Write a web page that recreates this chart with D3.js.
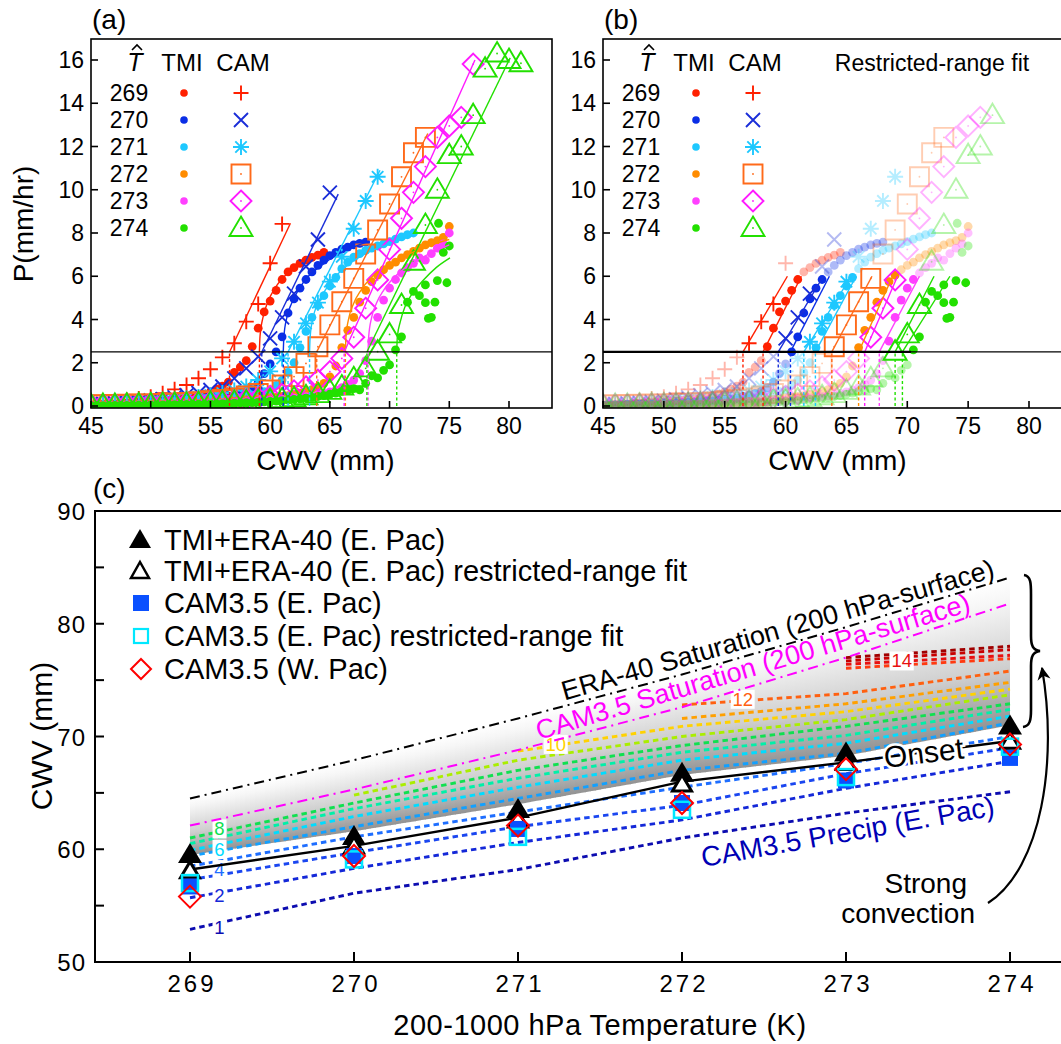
<!DOCTYPE html>
<html>
<head>
<meta charset="utf-8">
<script src="https://cdn.jsdelivr.net/npm/d3@7"></script>
<style>
  body { margin: 0; background: #fff; }
  svg { font-family: "Liberation Sans", Arial, Helvetica, sans-serif; }
</style>
</head>
<body>
<svg id="chart" width="1061" height="1044"></svg>
<script>
// ---------------- panels (a) and (b): precip vs CWV ----------------
var temps = [269, 270, 271, 272, 273, 274];
var tmiColors = ["#ff2000", "#0a2ee6", "#1ec8ff", "#ff8c00", "#ff40ff", "#22e000"];
var camColors = ["#ff2000", "#1a2ed8", "#1ec8ff", "#ff6a1a", "#ff1aff", "#22e000"];
var camSymbols = ["plus", "cross", "star", "square", "diamond", "triangle"];

// TMI bin means, CWV from 45 mm every 0.5 mm
var tmiStart = 45, tmiStep = 0.5;
var tmi269 = [0.05,0.06,0.07,0.08,0.09,0.10,0.11,0.12,0.14,0.16,0.18,0.20,0.23,0.26,0.30,0.34,0.38,0.42,0.48,0.55,
  0.65,0.78,0.92,1.10,1.55,1.80,2.10,2.75,3.60,4.35,4.85,5.35,5.85,6.20,6.40,6.60,6.75,6.87,6.98,7.10];
var tmi270 = [0.04,0.05,0.05,0.06,0.07,0.07,0.08,0.09,0.09,0.10,0.11,0.12,0.13,0.15,0.16,0.18,0.20,0.22,0.24,0.27,
  0.30,0.34,0.38,0.44,0.50,0.58,0.68,0.85,1.10,1.50,1.95,2.50,3.20,4.30,4.95,5.45,5.85,6.20,6.50,6.75,
  6.95,7.10,7.25,7.35,7.45,7.52,7.58];
var tmi271 = [0.03,0.03,0.04,0.04,0.05,0.05,0.06,0.06,0.07,0.08,0.08,0.09,0.10,0.11,0.12,0.13,0.14,0.16,0.17,0.19,
  0.21,0.24,0.27,0.30,0.34,0.38,0.43,0.50,0.58,0.66,0.75,0.95,1.20,1.55,2.00,2.70,3.45,4.10,4.65,5.10,
  5.55,5.95,6.35,6.65,6.88,7.05,7.20,7.30,7.40,7.50,7.60,7.72,7.82,7.92,8.00];
var tmi272 = [0.02,0.02,0.03,0.03,0.03,0.04,0.04,0.04,0.05,0.05,0.06,0.06,0.07,0.07,0.08,0.09,0.10,0.11,0.12,0.13,
  0.14,0.15,0.17,0.19,0.21,0.23,0.25,0.28,0.31,0.34,0.37,0.40,0.44,0.48,0.53,0.60,0.67,0.76,0.88,1.05,
  1.35,1.85,2.70,3.50,4.10,4.80,5.35,5.75,6.05,6.30,6.50,6.65,6.85,7.00,7.15,7.30,7.45,7.55,7.65,7.80,8.30];
var tmi273 = [0.02,0.02,0.02,0.03,0.03,0.03,0.04,0.04,0.04,0.05,0.05,0.06,0.06,0.07,0.07,0.08,0.09,0.10,0.10,0.11,
  0.12,0.13,0.14,0.15,0.16,0.17,0.19,0.20,0.22,0.24,0.26,0.28,0.30,0.33,0.36,0.39,0.43,0.47,0.52,0.58,
  0.65,0.74,0.85,1.00,1.20,1.50,2.10,3.00,4.10,4.90,5.45,5.85,6.15,6.40,6.60,6.85,6.75,7.05,7.30,7.50,8.00];
var tmi274 = [0.02,0.02,0.02,0.02,0.03,0.03,0.03,0.04,0.04,0.04,0.05,0.05,0.05,0.06,0.06,0.07,0.07,0.08,0.08,0.09,
  0.10,0.10,0.11,0.12,0.13,0.14,0.15,0.16,0.18,0.19,0.21,0.23,0.25,0.27,0.30,0.33,0.36,0.40,0.44,0.48,
  0.55,0.60,0.68,0.72,0.80,0.75,1.05,1.40,1.30,1.65,1.90,2.60,3.20,4.80,5.30,5.10,5.60,4.10,5.80,7.10,7.40];
var tmi274Extra = [[73.0, 4.78], [73.25, 4.05], [73.8, 4.8], [74.1, 8.45], [74.8, 5.7]];
var tmiP = [tmi269, tmi270, tmi271, tmi272, tmi273, tmi274];

// CAM bin means, CWV from 45 mm every 1 mm
var camStart = 45;
var cam269 = [0.10,0.15,0.20,0.28,0.35,0.43,0.59,0.77,0.97,1.28,1.70,2.25,2.90,3.90,4.72,6.60,8.42];
var cam270 = [0.08,0.10,0.13,0.16,0.20,0.26,0.32,0.40,0.50,0.60,0.74,0.90,1.28,1.74,2.28,3.13,4.10,5.20,6.45,7.70,9.87];
var cam271 = [0.06,0.07,0.09,0.11,0.14,0.18,0.22,0.28,0.35,0.42,0.50,0.60,0.72,0.90,1.20,1.60,2.20,2.97,3.82,4.78,
  5.75,6.90,8.20,9.48,10.6];
var cam272 = [0.05,0.06,0.07,0.08,0.09,0.10,0.12,0.14,0.16,0.20,0.24,0.30,0.37,0.46,0.58,0.74,0.97,1.36,1.97,2.74,
  3.75,4.82,5.90,7.03,8.14,9.34,10.6,11.71,12.42];
var cam273 = [0.05,0.06,0.07,0.08,0.09,0.10,0.11,0.13,0.15,0.17,0.19,0.21,0.24,0.30,0.36,0.45,0.55,0.70,0.89,1.20,
  1.59,2.20,3.18,4.52,5.83,7.24,8.68,9.88,11.07,12.42,12.95,13.35,15.81];
var cam274 = [0.04,0.05,0.05,0.06,0.07,0.08,0.09,0.10,0.11,0.13,0.15,0.17,0.19,0.21,0.24,0.27,0.31,0.36,0.45,0.55,
  0.70,0.90,1.28,1.74,2.51,3.31,4.67,6.67,8.37,10.0,11.6,12.0,13.45,15.6,16.3,16.0,15.85];
var camP = [cam269, cam270, cam271, cam272, cam273, cam274];
var camLastB = [60, 64, 69, 73, 76, 77];   // last CAM bin shown in panel (b)

// full-range fits in (a)
var camFitA = [
  [[56.6, 2.5], [61.7, 8.45]],
  [[59.3, 2.5], [65.7, 9.8]],
  [[61.5, 2.5], [69.2, 10.9]],
  [[63.9, 2.5], [73.2, 12.6]],
  [[66.2, 2.5], [77.15, 16.0]],
  [[68.1, 2.5], [80.1, 16.1]]
];
var tmiFitA = [
  [[59.1,2.5],[59.15,3.2],[59.4,4.1],[59.8,4.8],[60.4,5.45],[61.2,6.0],[62.2,6.5],[63.4,6.9],[64.5,7.2]],
  [[61.1,2.5],[61.15,3.2],[61.4,4.1],[61.8,4.75],[62.4,5.4],[63.2,6.0],[64.3,6.5],[65.6,7.0],[67,7.35],[68.2,7.6]],
  [[63.3,2.5],[63.35,3.2],[63.6,4.1],[64,4.75],[64.6,5.35],[65.5,6.0],[66.7,6.6],[68.2,7.1],[70,7.5],[72,7.9]],
  [[66.3,2.5],[66.35,3.2],[66.6,4.1],[67,4.75],[67.6,5.35],[68.5,5.95],[69.8,6.5],[71.5,7.0],[73.5,7.45],[75,7.7]],
  [[68.2,2.5],[68.25,3.2],[68.5,4.1],[68.9,4.75],[69.5,5.35],[70.4,5.95],[71.6,6.5],[73.2,7.0],[75,7.45]],
  [[70.6,2.5],[70.65,3.2],[70.9,3.9],[71.3,4.6],[71.9,5.2],[72.8,5.8],[73.9,6.4],[75.06,6.85]]
];
// restricted-range fits in (b): CWV where the line is at 2.5 and at 6 mm/hr
var fitRange = [2.5, 6.0];
var camFitB = [[56.5, 60.15], [59.4, 63.1], [61.5, 65.4], [63.8, 67.1], [66.5, 69.2], [69.0, 72.2]];
var tmiFitB = [[58.15, 61.3], [60.4, 63.6], [62.45, 65.8], [66.0, 68.8], [67.7, 71.0], [69.6, 73.5]];
var onsetP = 2.5;

// ---------------- panel (c): onset CWV vs column temperature ----------------
var cTemps = [269, 270, 271, 272, 273, 274];
var tmiOnset = [59.4, 61.0, 63.4, 66.6, 68.4, 70.8];
var tmiOnsetRestricted = [58.0, 60.2, 62.5, 65.7, 67.6, 69.5];
var camEPac = [56.7, 59.4, 61.8, 64.1, 66.1, 68.1];
var camEPacRestricted = [57.0, 59.1, 61.1, 63.5, 66.4, 69.1];
var camWPac = [55.8, 59.4, 62.1, 64.1, 67.1, 69.3];
var onsetLine = [58.2, 60.3, 62.8, 66.0, 67.7, 69.6];
var eraSat = [64.5, 67.9, 71.6, 75.5, 79.7, 84.1];
var camSat = [62.1, 65.3, 68.8, 72.6, 77.0, 81.8];
var shadeBottom = [59.5, 61.6, 64.0, 66.6, 68.3, 71.0];

// CAM3.5 precip contours (mm/hr), CWV at each temperature
var precipLevels = [1, 2, 3, 4, 5, 6, 7, 8, 9, 10, 11, 12, 13, 14, 15, 16];
var precipColors = ["#0c0cb0", "#1428d8", "#1a46f0", "#1e6eff", "#12a0ff", "#00dcff", "#00f0a8", "#10e050",
  "#aaee00", "#ffd200", "#ffa000", "#ff6010", "#ff3a10", "#e81010", "#c80000", "#a00000"];
var precipCwv = [
  [52.9, 56.1, 58.2, 61.0, 63.2, 65.1],
  [55.7, 58.3, 60.6, 62.6, 65.4, 67.8],
  [57.3, 59.7, 62.0, 63.9, 66.7, 69.0],
  [58.5, 61.1, 63.3, 65.5, 67.6, 70.0],
  [59.4, 62.0, 64.5, 67.0, 68.5, 71.2],
  [59.9, 62.9, 65.5, 67.9, 69.4, 71.8],
  [60.5, 63.6, 66.3, 68.6, 70.1, 72.4],
  [61.0, 64.1, 67.0, 69.2, 70.9, 72.9],
  [null, 64.8, 67.9, 70.0, 71.5, 73.7],
  [null, null, 68.7, 70.9, 72.2, 74.2],
  [null, null, null, 71.6, 72.9, 74.8],
  [null, null, null, 72.8, 73.8, 75.8],
  [null, null, null, null, 76.05, 76.9],
  [null, null, null, null, 76.4, 77.2],
  [null, null, null, null, 76.7, 77.7],
  [null, null, null, null, 77.0, 78.0]
];
// contour labels: [T, CWV, level index]
var contourLabels = [[269.18, 53.1, 0], [269.18, 55.9, 1], [269.18, 58.2, 3], [269.18, 60.0, 5],
  [269.18, 61.8, 7], [271.23, 69.3, 9], [272.37, 73.3, 11], [273.34, 76.7, 13]];

var legendC = ["TMI+ERA-40 (E. Pac)", "TMI+ERA-40 (E. Pac) restricted-range fit", "CAM3.5 (E. Pac)",
  "CAM3.5 (E. Pac) restricted-range fit", "CAM3.5 (W. Pac)"];

var svg = d3.select("#chart");
var defs = svg.append("defs");

function markerPath(type) {
  switch (type) {
    case "plus": return "M-7.5,0H7.5M0,-7.5V7.5";
    case "cross": return "M-7,-7L7,7M-7,7L7,-7";
    case "star": return "M-8,0H8M0,-8V8M-5.7,-5.7L5.7,5.7M-5.7,5.7L5.7,-5.7";
    case "square": return "M-9.5,-9.5H9.5V9.5H-9.5Z";
    case "diamond": return "M0,-10.5L10.5,0L0,10.5L-10.5,0Z";
    case "triangle": return "M0,-11.5L11.5,8H-11.5Z";
  }
}

function drawCamMarker(g, type, cx, cy, color, alpha) {
  var m = g.append("g").attr("transform", "translate(" + cx + "," + cy + ")").attr("opacity", alpha);
  m.append("path").attr("d", markerPath(type)).attr("fill", "none")
    .attr("stroke", color).attr("stroke-width", 1.9);
  if (type == "square" || type == "diamond" || type == "triangle") {
    m.append("circle").attr("r", 0.9).attr("fill", color);
  }
}

// ---- scatter panels (a) and (b) ----
function drawPanel(opt) {
  var top = 39, bottom = 408;
  var x = d3.scaleLinear().domain([45, 80]).range([opt.x45, opt.x80]);
  var y = d3.scaleLinear().domain([0, 16]).range([406, 60]);
  var g = svg.append("g");

  defs.append("clipPath").attr("id", "clip" + opt.id)
    .append("rect").attr("x", opt.left).attr("y", top)
    .attr("width", opt.right - opt.left).attr("height", bottom - top);
  var plot = g.append("g").attr("clip-path", "url(#clip" + opt.id + ")");

  function shown(p) {
    if (!opt.restricted) return 1;
    return (p >= fitRange[0] - 0.1 && p <= fitRange[1] + 0.1) ? 1 : 0.33;
  }

  // two passes in (b): faded points first, full ones on top
  var passes = opt.restricted ? [0.33, 1] : [1];
  passes.forEach(function (pass) {
    temps.forEach(function (t, k) {
      tmiP[k].forEach(function (p, i) {
        var a = shown(p);
        if (a != pass) return;
        plot.append("circle").attr("cx", x(tmiStart + i * tmiStep)).attr("cy", y(p))
          .attr("r", 4.4).attr("fill", tmiColors[k]).attr("opacity", a);
      });
      if (k == 5) {
        tmi274Extra.forEach(function (d) {
          var a = shown(d[1]);
          if (a != pass) return;
          plot.append("circle").attr("cx", x(d[0])).attr("cy", y(d[1]))
            .attr("r", 4.4).attr("fill", tmiColors[k]).attr("opacity", a);
        });
      }
      camP[k].forEach(function (p, i) {
        var w = camStart + i;
        if (opt.restricted && w > camLastB[k]) return;
        var a = shown(p);
        if (a != pass) return;
        drawCamMarker(plot, camSymbols[k], x(w), y(p), camColors[k], a);
      });
    });
  });

  var line = d3.line().x(function (d) { return x(d[0]); }).y(function (d) { return y(d[1]); });
  temps.forEach(function (t, k) {
    var fits;
    if (opt.restricted) {
      fits = [[[camFitB[k][0], fitRange[0]], [camFitB[k][1], fitRange[1]]],
              [[tmiFitB[k][0], fitRange[0]], [tmiFitB[k][1], fitRange[1]]]];
    } else {
      fits = [camFitA[k], tmiFitA[k]];
    }
    fits.forEach(function (f, j) {
      var col = j == 0 ? camColors[k] : tmiColors[k];
      plot.append("path").attr("d", line.curve(j == 1 && !opt.restricted ? d3.curveMonotoneX : d3.curveLinear)(f))
        .attr("fill", "none").attr("stroke", col).attr("stroke-width", 1.4);
      plot.append("line").attr("x1", x(f[0][0])).attr("x2", x(f[0][0]))
        .attr("y1", y(0)).attr("y2", y(onsetP))
        .attr("stroke", col).attr("stroke-width", 1.4).attr("stroke-dasharray", "3,2.5");
    });
  });

  // onset threshold
  plot.append("line").attr("x1", opt.left).attr("x2", opt.right)
    .attr("y1", y(onsetP)).attr("y2", y(onsetP)).attr("stroke", "#000").attr("stroke-width", 1.3);
  if (opt.restricted) {
    plot.append("line").attr("x1", opt.left).attr("x2", x(70.3))
      .attr("y1", y(onsetP)).attr("y2", y(onsetP)).attr("stroke", "#000").attr("stroke-width", 2.2);
  }

  // frame and ticks
  g.append("rect").attr("x", opt.left).attr("y", top).attr("width", opt.right - opt.left)
    .attr("height", bottom - top).attr("fill", "none").attr("stroke", "#000").attr("stroke-width", 1.6);
  d3.range(0, 17, 2).forEach(function (v) {
    g.append("line").attr("x1", opt.left).attr("x2", opt.left + 7).attr("y1", y(v)).attr("y2", y(v))
      .attr("stroke", "#000").attr("stroke-width", 1.6);
    g.append("text").attr("x", opt.left - 7).attr("y", y(v) + 8).attr("text-anchor", "end")
      .attr("font-size", 23).text(v);
  });
  d3.range(45, 81, 5).forEach(function (v) {
    g.append("line").attr("x1", x(v)).attr("x2", x(v)).attr("y1", bottom).attr("y2", bottom - 7)
      .attr("stroke", "#000").attr("stroke-width", 1.6);
    g.append("text").attr("x", x(v)).attr("y", 434).attr("text-anchor", "middle")
      .attr("font-size", 23).text(v);
  });
  g.append("text").attr("x", (opt.left + opt.right) / 2 + 4).attr("y", 470).attr("text-anchor", "middle")
    .attr("font-size", 28).text("CWV (mm)");
  g.append("text").attr("x", opt.left + 1).attr("y", 29).attr("font-size", 28).text(opt.label);

  // legend
  var lx = opt.left;
  g.append("text").attr("x", lx + 44).attr("y", 71).attr("text-anchor", "middle")
    .attr("font-size", 25).attr("font-style", "italic").text("T");
  g.append("path").attr("d", "M" + (lx + 41) + ",50L" + (lx + 46) + ",45L" + (lx + 51) + ",50")
    .attr("fill", "none").attr("stroke", "#000").attr("stroke-width", 1.6);
  g.append("text").attr("x", lx + 91).attr("y", 71).attr("text-anchor", "middle")
    .attr("font-size", 24).text("TMI");
  g.append("text").attr("x", lx + 152).attr("y", 71).attr("text-anchor", "middle")
    .attr("font-size", 24).text("CAM");
  if (opt.restricted) {
    g.append("text").attr("x", lx + 329).attr("y", 71).attr("text-anchor", "middle")
      .attr("font-size", 23).text("Restricted-range fit");
  }
  temps.forEach(function (t, k) {
    var ry = 93 + k * 27;
    g.append("text").attr("x", lx + 38).attr("y", ry + 8).attr("text-anchor", "middle")
      .attr("font-size", 23).text(t);
    g.append("circle").attr("cx", lx + 93).attr("cy", ry).attr("r", 3.8).attr("fill", tmiColors[k]);
    drawCamMarker(g, camSymbols[k], lx + 150, ry, camColors[k], 1);
  });

  if (opt.yTitle) {
    g.append("text").attr("transform", "translate(33,224) rotate(-90)").attr("text-anchor", "middle")
      .attr("font-size", 28).text("P(mm/hr)");
  }
}

drawPanel({ id: "a", left: 91, right: 552, x45: 91, x80: 509, restricted: false, label: "(a)", yTitle: true });
drawPanel({ id: "b", left: 603, right: 1064, x45: 603, x80: 1029, restricted: true, label: "(b)", yTitle: false });

// ---- panel (c) ----
var xC = d3.scaleLinear().domain([269, 274]).range([190, 1010]);
var yC = d3.scaleLinear().domain([50, 90]).range([962, 511]);
var cLeft = 95, cRight = 1064, cTop = 511, cBottom = 962;
var gc = svg.append("g");

// shaded band: vertical white-to-grey gradient in thin strips
var grad = defs.append("linearGradient").attr("id", "shade")
  .attr("x1", 0).attr("y1", 0).attr("x2", 0).attr("y2", 1);
grad.append("stop").attr("offset", 0).attr("stop-color", "#ffffff");
grad.append("stop").attr("offset", 0.15).attr("stop-color", "#f6f6f6");
grad.append("stop").attr("offset", 0.6).attr("stop-color", "#cfcfcf");
grad.append("stop").attr("offset", 1).attr("stop-color", "#929292");
var topAt = d3.scaleLinear().domain(cTemps).range(eraSat);
var botAt = d3.scaleLinear().domain(cTemps).range(shadeBottom);
var nStrip = 164;
for (var i = 0; i < nStrip; i++) {
  var t0 = 269 + 5 * i / nStrip, t1 = 269 + 5 * (i + 1) / nStrip;
  var x0 = xC(t0), x1 = Math.min(xC(t1) + 0.7, xC(274));
  gc.append("polygon")
    .attr("points", [[x0, yC(topAt(t0))], [x1, yC(topAt(t1))], [x1, yC(botAt(t1))], [x0, yC(botAt(t0))]].join(" "))
    .attr("fill", "url(#shade)");
}

var lineC = d3.line()
  .defined(function (d) { return d != null; })
  .x(function (d, i) { return xC(cTemps[i]); })
  .y(function (d) { return yC(d); });

precipCwv.forEach(function (row, k) {
  gc.append("path").attr("d", lineC(row)).attr("fill", "none")
    .attr("stroke", precipColors[k]).attr("stroke-width", 2.9).attr("stroke-dasharray", "5.5,4");
});
contourLabels.forEach(function (d) {
  var lab = String(precipLevels[d[2]]);
  var w = lab.length * 10 + 4;
  gc.append("rect").attr("x", xC(d[0]) - w / 2).attr("y", yC(d[1]) - 9.5).attr("width", w).attr("height", 19)
    .attr("fill", "#fff");
  gc.append("text").attr("x", xC(d[0])).attr("y", yC(d[1]) + 6.5).attr("text-anchor", "middle")
    .attr("font-size", 18.5).attr("fill", precipColors[d[2]]).text(lab);
});

// saturation curves
gc.append("path").attr("d", lineC(eraSat)).attr("fill", "none").attr("stroke", "#000")
  .attr("stroke-width", 2).attr("stroke-dasharray", "10,5,2,5");
gc.append("path").attr("d", lineC(camSat)).attr("fill", "none").attr("stroke", "#ff00ff")
  .attr("stroke-width", 2).attr("stroke-dasharray", "10,5,2,5");
gc.append("path").attr("d", lineC(onsetLine)).attr("fill", "none").attr("stroke", "#000")
  .attr("stroke-width", 2.4);

function angleOf(arr, i0, i1) {
  return Math.atan2(yC(arr[i1]) - yC(arr[i0]), xC(cTemps[i1]) - xC(cTemps[i0])) * 180 / Math.PI;
}
gc.append("text").attr("transform", "translate(996,577) rotate(" + angleOf(eraSat, 2, 5) + ")")
  .attr("text-anchor", "end").attr("font-size", 27).text("ERA-40 Saturation (200 hPa-surface)");
gc.append("text").attr("transform", "translate(972,611) rotate(" + angleOf(camSat, 2, 5) + ")")
  .attr("text-anchor", "end").attr("font-size", 27).attr("fill", "#ff00ff")
  .text("CAM3.5 Saturation (200 hPa-surface)");
gc.append("text").attr("transform", "translate(703,867) rotate(-10)")
  .attr("font-size", 28).attr("fill", "#0000b4").text("CAM3.5 Precip (E. Pac)");
gc.append("text").attr("transform", "translate(925,763) rotate(-7)").attr("text-anchor", "middle")
  .attr("font-size", 30).attr("stroke", "#fff").attr("stroke-width", 5).attr("paint-order", "stroke")
  .text("Onset");

// markers
var triPath = "M0,-13L12,7H-12Z";
cTemps.forEach(function (t, i) {
  gc.append("path").attr("transform", "translate(" + xC(t) + "," + yC(tmiOnset[i]) + ")")
    .attr("d", triPath).attr("fill", "#000");
});
cTemps.forEach(function (t, i) {
  gc.append("path").attr("transform", "translate(" + xC(t) + "," + yC(tmiOnsetRestricted[i]) + ")")
    .attr("d", "M0,-10L9.5,6H-9.5Z").attr("fill", "#fff").attr("stroke", "#000").attr("stroke-width", 3);
});
cTemps.forEach(function (t, i) {
  gc.append("rect").attr("x", xC(t) - 8).attr("y", yC(camEPac[i]) - 8).attr("width", 16).attr("height", 16)
    .attr("fill", "#0a50ff");
});
cTemps.forEach(function (t, i) {
  gc.append("rect").attr("x", xC(t) - 8).attr("y", yC(camEPacRestricted[i]) - 8).attr("width", 16)
    .attr("height", 16).attr("fill", "none").attr("stroke", "#00e8ff").attr("stroke-width", 2.5);
});
cTemps.forEach(function (t, i) {
  gc.append("path").attr("transform", "translate(" + xC(t) + "," + yC(camWPac[i]) + ")")
    .attr("d", "M0,-11L11,0L0,11L-11,0Z").attr("fill", "none").attr("stroke", "#ff0000").attr("stroke-width", 2);
});

// legend of (c)
var legY = [540, 571, 603, 636, 669];
gc.append("path").attr("transform", "translate(140," + legY[0] + ")").attr("d", "M0,-11L11,8H-11Z").attr("fill", "#000");
gc.append("path").attr("transform", "translate(140," + legY[1] + ")").attr("d", "M0,-9L9,7H-9Z")
  .attr("fill", "#fff").attr("stroke", "#000").attr("stroke-width", 2.5);
gc.append("rect").attr("x", 133).attr("y", legY[2] - 8).attr("width", 16).attr("height", 16).attr("fill", "#0a50ff");
gc.append("rect").attr("x", 134).attr("y", legY[3] - 7).attr("width", 14).attr("height", 14)
  .attr("fill", "none").attr("stroke", "#00e8ff").attr("stroke-width", 2.2);
gc.append("path").attr("transform", "translate(141," + legY[4] + ")").attr("d", "M0,-10L10,0L0,10L-10,0Z")
  .attr("fill", "none").attr("stroke", "#ff0000").attr("stroke-width", 2);
legendC.forEach(function (s, i) {
  gc.append("text").attr("x", 164).attr("y", legY[i] + 10).attr("font-size", 29).text(s);
});

// brace and arrow
gc.append("path")
  .attr("d", "M1024,575 C1031,576 1031,584 1031,594 L1031,636 C1031,646 1033,650 1040,651 " +
             "C1033,652 1031,656 1031,666 L1031,710 C1031,720 1030,726 1023,727")
  .attr("fill", "none").attr("stroke", "#000").attr("stroke-width", 2.6);
defs.append("marker").attr("id", "arrow").attr("viewBox", "0 0 10 10").attr("refX", 9).attr("refY", 5)
  .attr("markerWidth", 6).attr("markerHeight", 6).attr("markerUnits", "strokeWidth").attr("orient", "auto")
  .append("path").attr("d", "M0,0L10,5L0,10L3,5Z").attr("fill", "#000");
gc.append("path").attr("d", "M988,903 C1042,868 1058,760 1042,668")
  .attr("fill", "none").attr("stroke", "#000").attr("stroke-width", 2.2).attr("marker-end", "url(#arrow)");
gc.append("text").attr("x", 967).attr("y", 893).attr("text-anchor", "end").attr("font-size", 28).text("Strong");
gc.append("text").attr("x", 975).attr("y", 923).attr("text-anchor", "end").attr("font-size", 28).text("convection");

// frame, ticks, labels
gc.append("rect").attr("x", cLeft).attr("y", cTop).attr("width", cRight - cLeft).attr("height", cBottom - cTop)
  .attr("fill", "none").attr("stroke", "#000").attr("stroke-width", 2);
d3.range(50, 91, 5).forEach(function (v) {
  gc.append("line").attr("x1", cLeft).attr("x2", cLeft + 9).attr("y1", yC(v)).attr("y2", yC(v))
    .attr("stroke", "#000").attr("stroke-width", 2);
  if (v % 10 == 0) {
    gc.append("text").attr("x", 86).attr("y", yC(v) + 9).attr("text-anchor", "end")
      .attr("font-size", 24).attr("letter-spacing", 1).text(v);
  }
});
cTemps.forEach(function (t) {
  gc.append("line").attr("x1", xC(t)).attr("x2", xC(t)).attr("y1", cBottom).attr("y2", cBottom - 10)
    .attr("stroke", "#000").attr("stroke-width", 2);
  gc.append("text").attr("x", xC(t) + 2).attr("y", 992).attr("text-anchor", "middle")
    .attr("font-size", 24).attr("letter-spacing", 3).text(t);
});
gc.append("text").attr("x", 600).attr("y", 1035).attr("text-anchor", "middle").attr("font-size", 29)
  .attr("letter-spacing", 0.5).text("200-1000 hPa Temperature (K)");
gc.append("text").attr("transform", "translate(52,736) rotate(-90)").attr("text-anchor", "middle")
  .attr("font-size", 30).text("CWV (mm)");
gc.append("text").attr("x", 93).attr("y", 498).attr("font-size", 28).text("(c)");
</script>
</body>
</html>
